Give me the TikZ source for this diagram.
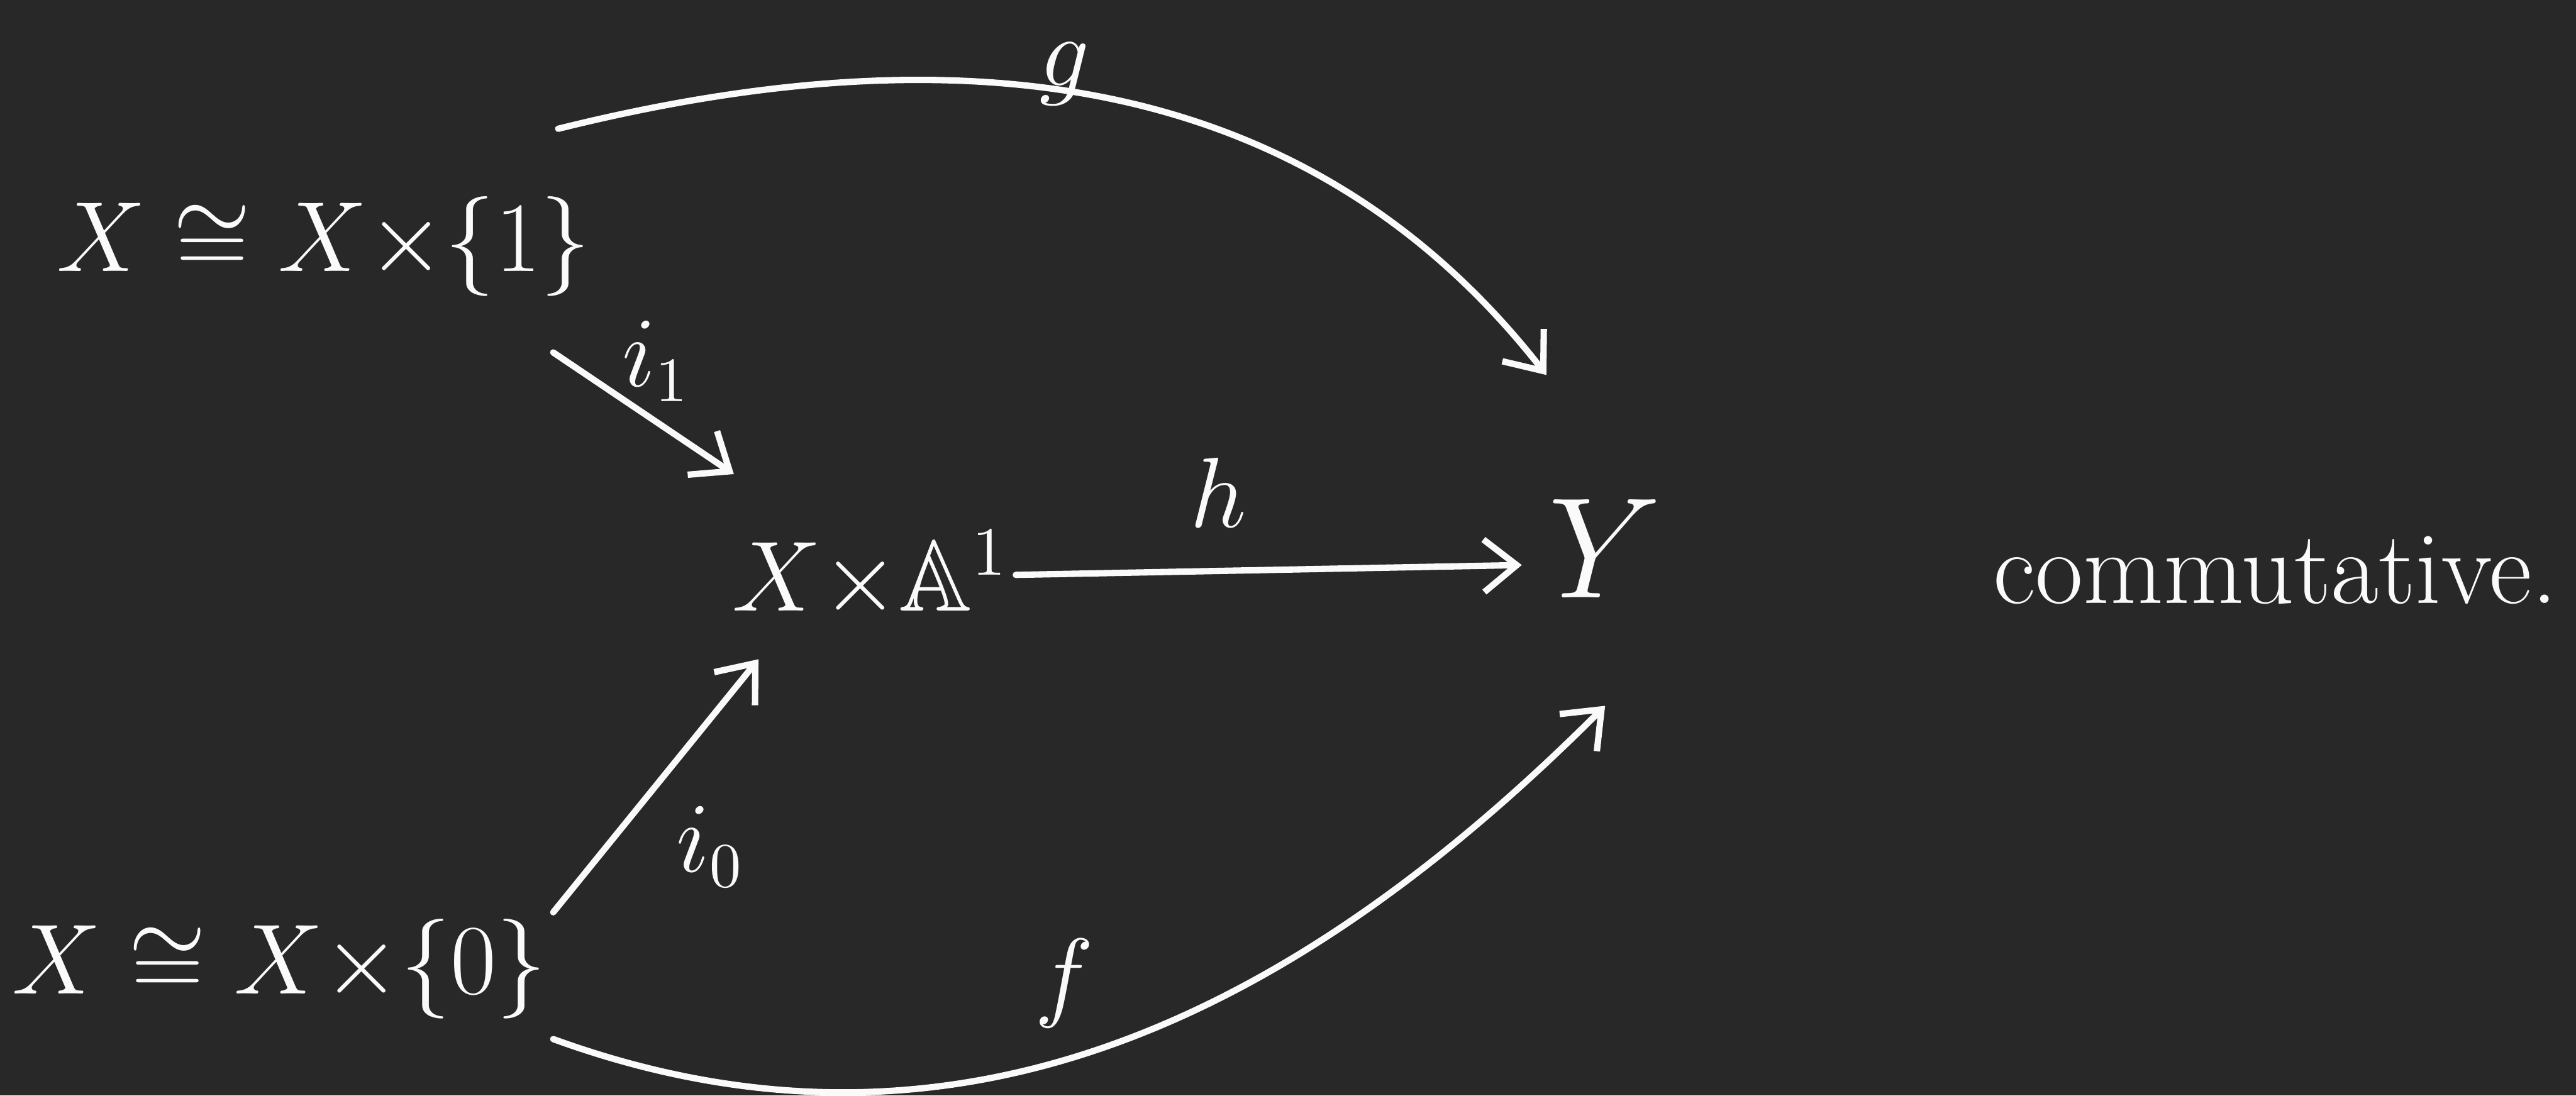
\documentclass[tikz,border=0pt]{standalone}
\usepackage{amssymb}
\usepackage{xcolor}
\usepackage{tikz}
\usetikzlibrary{arrows.meta}
\definecolor{boardBg}{HTML}{282828}
\definecolor{chalkWhite}{HTML}{FAFAFA}
\tikzset{
  objnode/.style={text=chalkWhite,font=\fontsize{17.5}{21}\selectfont,inner sep=1pt},
  targetnode/.style={text=chalkWhite,font=\fontsize{26}{30}\selectfont,
    minimum width=1cm,minimum height=1.9cm,inner sep=0pt},
  maplabel/.style={text=chalkWhite,font=\fontsize{16}{19}\selectfont,inner sep=1pt},
  noteblock/.style={text=chalkWhite,font=\fontsize{18}{22}\selectfont,inner sep=1pt},
  arrow/.style={draw=chalkWhite,line width=1.1pt,line cap=round,
    -{Straight Barb[length=2mm,width=3.2mm]}}
}

\begin{document}
\begin{tikzpicture}
  \fill[boardBg] (0,0) rectangle (15.68,6.67);
  \useasboundingbox (0,0) rectangle (15.68,6.67);
  \node[objnode] (top) at (1.97,5.17) {$X\cong X{\times}\{1\}$};
  \node[objnode] (bot) at (1.70,0.77) {$X\cong X{\times}\{0\}$};
  \node[objnode] (prod) at (5.30,3.17) {$X{\times}\mathbb{A}^1$};
  \node[targetnode] (Y) at (9.77,3.33) {$Y$};
  \node[noteblock] (note) at (13.85,3.20) {commutative.};
  \draw[arrow] ([shift={(-0.24,0.37)}]top.north east) to[out=14,in=128]
    node[maplabel,pos=0.46,above=-4pt] {$g$} ([shift={(0.15,0.1)}]Y.north west);
  \draw[arrow] ([shift={(-0.27,-0.3)}]top.south east) --
    node[maplabel,pos=0.57,above=2pt] {$i_1$} ([shift={(0.05,0.3)}]prod.north west);
  \draw[arrow] (prod.east) -- node[maplabel,pos=0.4,above=6pt] {$h$} ([yshift=-0.1cm]Y.west);
  \draw[arrow] (bot.north east) -- node[maplabel,pos=0.5,below right=2pt] {$i_0$}
    ([shift={(0.2,-0.2)}]prod.south west);
  \draw[arrow] ([yshift=-0.08cm]bot.south east) to[out=-20,in=-135]
    node[maplabel,pos=0.45,above=4pt] {$f$} (Y.south);
\end{tikzpicture}
\end{document}
